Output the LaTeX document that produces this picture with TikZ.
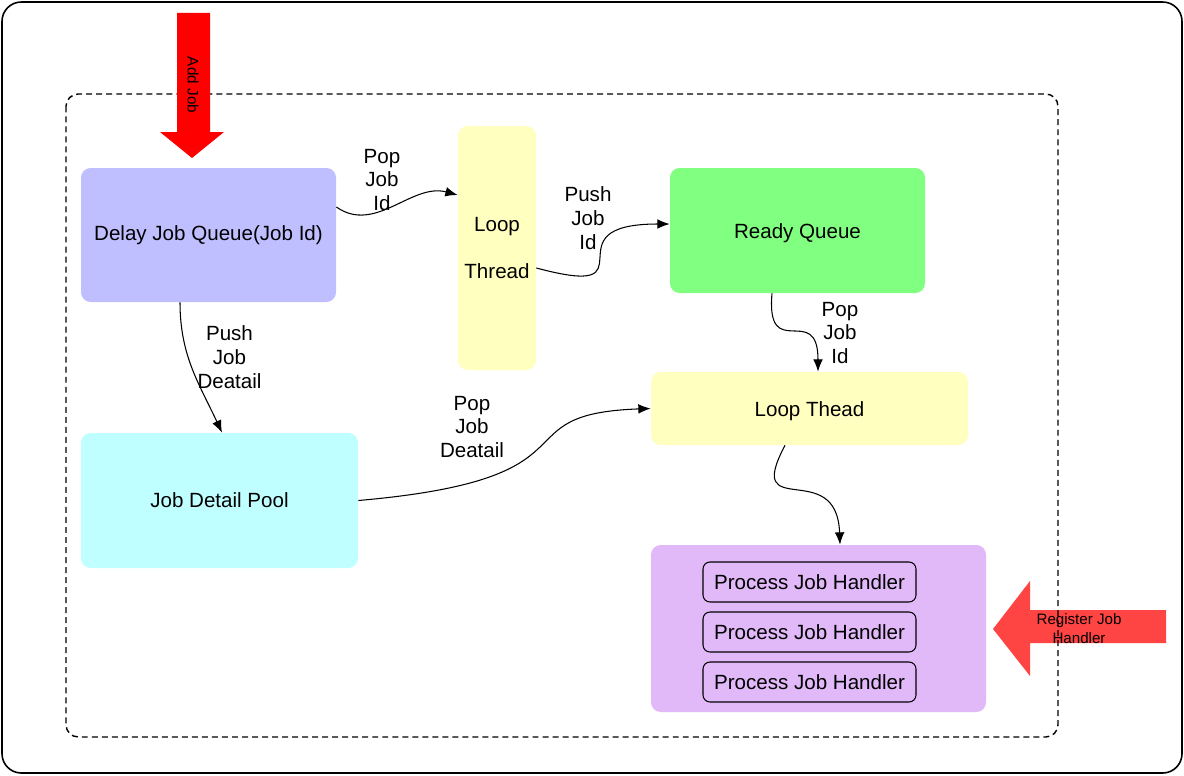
\documentclass[tikz,border=0pt]{standalone}
\usepackage{fontspec}
\setmainfont{Liberation Sans}
\usetikzlibrary{positioning}
\usetikzlibrary{calc}
\usetikzlibrary{arrows.meta}

\definecolor{delayblue}{HTML}{BFBFFF}
\definecolor{loopyellow}{HTML}{FFFFC0}
\definecolor{readygreen}{HTML}{80FF80}
\definecolor{poolcyan}{HTML}{C0FFFF}
\definecolor{handlerpurple}{HTML}{E1B9F9}
\definecolor{addred}{HTML}{FF0000}
\definecolor{regred}{HTML}{FF4444}

\tikzset{
qbox/.style={rounded corners=5.5pt, inner sep=0pt, align=center, font=\fontsize{11.7}{13.6}\selectfont},
hbox/.style={draw, line width=0.6pt, rounded corners=4pt, fill=handlerpurple, minimum width=4.26cm, minimum height=0.8cm, inner sep=0pt, font=\fontsize{11.7}{13.6}\selectfont},
lbl/.style={align=center, inner sep=0pt, font=\fontsize{11.7}{13.6}\selectfont},
flow/.style={-{Latex[length=7pt,width=5.5pt]}, line width=0.6pt},
}

\begin{document}
\begin{tikzpicture}
\useasboundingbox (0,0) rectangle (23.68,-15.5);
\draw[line width=0.9pt, rounded corners=11pt] (0.04,-0.04) rectangle (23.64,-15.46);

% register arrow sits under the dashed frame
\fill[regred] (19.86,-12.58) -- (20.60,-11.62) -- (20.60,-12.20) -- (23.32,-12.20)
  -- (23.32,-12.86) -- (20.60,-12.86) -- (20.60,-13.52) -- cycle;
\node[align=center, inner sep=0pt, font=\fontsize{8.6}{10.8}\selectfont](regjob) at (21.58,-12.58){Register Job\\Handler};

\draw[dashed, line width=0.8pt, dash pattern=on 3.4pt off 2.3pt, rounded corners=7pt] (1.32,-1.88) rectangle (21.16,-14.74);

% add job arrow
\fill[addred] (3.54,-0.26) -- (4.20,-0.26) -- (4.20,-2.64) -- (4.48,-2.64) -- (3.84,-3.16)
  -- (3.20,-2.64) -- (3.54,-2.64) -- cycle;
\node[rotate=-90, inner sep=0pt, font=\fontsize{8.7}{10}\selectfont](addjob) at (3.86,-1.70){Add Job};

% queues and threads
\node[qbox, fill=delayblue, minimum width=5.1cm, minimum height=2.68cm](delayq) at (4.17,-4.70){Delay Job Queue(Job Id)};
\node[qbox, fill=loopyellow, minimum width=1.56cm, minimum height=4.88cm](loopthread) at (9.94,-4.96){Loop\\[13pt]Thread};
\node[qbox, fill=readygreen, minimum width=5.1cm, minimum height=2.5cm](readyq) at (15.95,-4.61){\raisebox{-0.06cm}[\height][\depth]{Ready Queue}};
\node[qbox, fill=loopyellow, minimum width=6.34cm, minimum height=1.46cm](loopthead) at (16.19,-8.17){\raisebox{-0.05cm}[\height][\depth]{Loop Thead}};
\node[qbox, fill=poolcyan, minimum width=5.54cm, minimum height=2.7cm](detailpool) at (4.39,-10.01){Job Detail Pool};
\node[qbox, fill=handlerpurple, minimum width=6.7cm, minimum height=3.34cm](handlers) at (16.37,-12.57){};

\node[hbox](handlerA) at (16.19,-11.64){Process Job Handler};
\node[hbox](handlerB) at (16.19,-12.64){Process Job Handler};
\node[hbox](handlerC) at (16.19,-13.64){Process Job Handler};

% labels
\node[lbl](popid) at (7.64,-3.60){Pop\\Job\\Id};
\node[lbl](pushid) at (11.76,-4.36){Push\\Job\\Id};
\node[lbl](pushdetail) at (4.59,-7.14){Push\\Job\\Deatail};
\node[lbl](popdetail) at (9.44,-8.54){Pop\\Job\\Deatail};
\node[lbl](popidready) at (16.80,-6.66){Pop\\Job\\Id};

\path
([yshift=0.56cm]delayq.east) edge[flow, out=-35, in=165]node{} ([yshift=1.06cm]loopthread.west)
([yshift=-0.40cm]loopthread.east) edge[flow, out=-15, in=180, looseness=2.3]node{} ([yshift=0.13cm]readyq.west)
([xshift=-0.57cm]delayq.south) edge[flow, out=-90, in=115]node{} ([xshift=0.05cm]detailpool.north)
(detailpool.east) edge[flow, out=5, in=182, out looseness=2.1, in looseness=1.3]node{} (loopthead.west)
([xshift=-0.51cm]readyq.south) edge[flow, out=-95, in=90, looseness=2]node{} ([xshift=0.17cm]loopthead.north)
([xshift=-0.49cm]loopthead.south) edge[flow, out=-118, in=92, looseness=2]node{} ([xshift=0.43cm]handlers.north);
\end{tikzpicture}
\end{document}
